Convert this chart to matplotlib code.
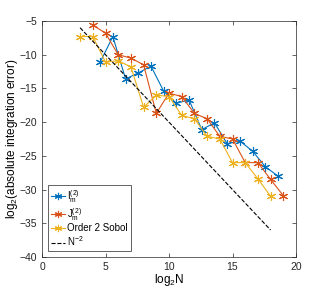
import numpy as np
import matplotlib.pyplot as plt

plt.rcParams['font.family'] = ['Liberation Sans', 'DejaVu Sans']
plt.rcParams['mathtext.fontset'] = 'custom'
plt.rcParams['mathtext.rm'] = 'Liberation Sans'
plt.rcParams['mathtext.it'] = 'Liberation Sans'

# log2 N values and log2 errors
x_i = [4.58, 5.58, 6.58, 7.58, 8.58, 9.58, 10.58, 11.58, 12.58, 13.58,
       14.58, 15.58, 16.58, 17.58, 18.58]
y_i = [-11.1, -7.3, -13.6, -12.7, -11.7, -15.4, -17.2, -16.7, -21.1, -20.1,
       -23.2, -22.8, -24.3, -26.6, -28.0]

x_j = [4, 5, 6, 7, 8, 9, 10, 11, 12, 13, 14, 15, 16, 17, 18, 19]
y_j = [-5.6, -6.8, -10.0, -10.5, -11.5, -18.7, -15.7, -16.2, -18.7, -19.5,
       -22.1, -22.5, -26.0, -26.0, -28.5, -30.9]

x_sobol = [3, 4, 5, 6, 7, 8, 9, 10, 11, 12, 13, 14, 15, 16, 17, 18]
y_sobol = [-7.3, -7.3, -11.1, -10.9, -11.8, -17.8, -16.0, -16.2, -19.0, -19.5,
           -22.1, -22.5, -26.0, -26.0, -28.4, -31.0]

x_ref = [3, 18]
y_ref = [-6, -36]

fig = plt.figure(figsize=(3.27, 2.89), dpi=100)
ax = fig.add_axes([42 / 327, 1 - 257 / 289, 254 / 327, 236 / 289])

asterisk = (6, 2, 0)
style = dict(marker=asterisk, markersize=6.5, lw=0.8, mew=0.8)
ax.plot(x_i, y_i, color='#0072BD', label=r'I$_m^{(2)}$', **style)
ax.plot(x_j, y_j, color='#D95319', label=r'J$_m^{(2)}$', **style)
ax.plot(x_sobol, y_sobol, color='#EDB120', label='Order 2 Sobol', **style)
ax.plot(x_ref, y_ref, 'k--', lw=0.8, label=r'N$^{-2}$')

ax.set_xlim(0, 20)
ax.set_ylim(-40, -5)
ax.set_xticks(np.arange(0, 21, 5))
ax.set_yticks(np.arange(-40, -4, 5))
ax.tick_params(direction='in', top=True, right=True, labelsize=7.5,
               length=3, width=0.5, colors='#262626')
for s in ax.spines.values():
    s.set_linewidth(0.5)
    s.set_color('#262626')

ax.set_xlabel(r'log$_2$N', fontsize=8.5, labelpad=0)
ax.set_ylabel(r'log$_2$(absolute integration error)', fontsize=8.5, labelpad=0)

leg = ax.legend(loc='lower left', fontsize=7, fancybox=False,
                framealpha=1, edgecolor='#262626', borderaxespad=0.6,
                handlelength=1.5, handletextpad=0.2, labelspacing=0.1,
                borderpad=0.3, markerscale=0.8)
leg.get_frame().set_linewidth(0.5)

fig.savefig('out.png', dpi=100)
